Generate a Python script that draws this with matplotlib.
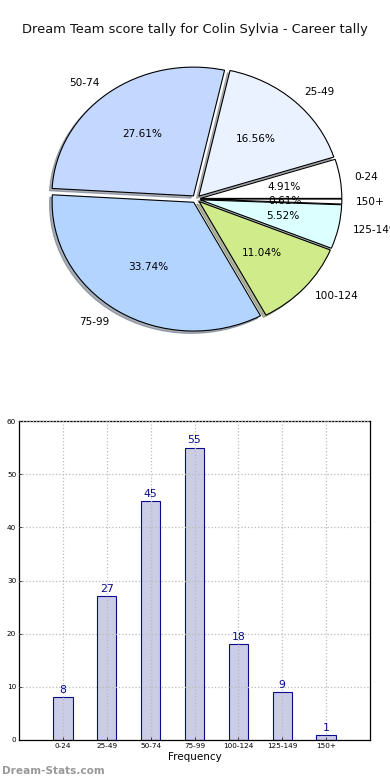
import matplotlib
matplotlib.use("Agg")
import matplotlib.pyplot as plt

categories = ["0-24", "25-49", "50-74", "75-99", "100-124", "125-149", "150+"]
counts = [8, 27, 45, 55, 18, 9, 1]
pie_colors = ["#ffffff", "#eaf1ff", "#c4d8ff", "#b3d4ff", "#d0eb8a", "#dcffff", "#ffffff"]
title = "Dream Team score tally for Colin Sylvia - Career tally"
xlabel = "Frequency"
yticks = [0, 10, 20, 30, 40, 50, 60]

fig = plt.figure(figsize=(3.9, 7.8), dpi=100)
fig.patch.set_facecolor("white")

fig.text(0.5, 1 - 30 / 780, title, ha="center", va="center", fontsize=9.4, color="#111111")

# Pie
axp = fig.add_axes([19 / 390, 420 / 780, 354 / 390, 322 / 780])
wedges, texts, autotexts = axp.pie(
    counts, labels=categories, colors=pie_colors, autopct="%.2f%%",
    startangle=0, explode=[0.03] * len(counts),
    shadow=dict(ox=-0.013, oy=-0.013, shade=0.55),
    wedgeprops=dict(edgecolor="black", linewidth=0.8),
    textprops=dict(fontsize=7.6),
)
axp.set_aspect("auto")
axp.set_xlim(-1.25, 1.25)
axp.set_ylim(-1.25, 1.25)

# Bar chart
axb = fig.add_axes([19 / 390, 40 / 780, 351 / 390, 319 / 780])
xs = list(range(1, len(categories) + 1))
bars = axb.bar(xs, counts, width=0.44, color="#cbcce6", edgecolor="#0a0a8a", linewidth=0.8, zorder=2)
for x, v in zip(xs, counts):
    axb.text(x, v + 0.4, str(v), ha="center", va="bottom", fontsize=7.8, color="#0a0a8a", zorder=3)
axb.set_xlim(0, 8)
axb.set_ylim(0, 60)
axb.set_xticks(xs)
axb.set_xticklabels(categories, fontsize=5.2)
axb.set_yticks(yticks)
axb.set_yticklabels([str(t) for t in yticks], fontsize=5.2)
axb.tick_params(axis="both", length=2, width=0.5, pad=2, direction="in")
axb.grid(True, linestyle=":", color="#bbbbbb", linewidth=0.9, zorder=0)
axb.set_axisbelow(False)
for s in axb.spines.values():
    s.set_linewidth(0.9)
axb.set_xlabel(xlabel, fontsize=7.5, labelpad=2)

fig.text(2 / 390, 1 - 771 / 780, "Dream-Stats.com", ha="left", va="center",
         fontsize=7.6, fontweight="bold", color="#999999")

fig.savefig("out.png", dpi=100, facecolor="white")
